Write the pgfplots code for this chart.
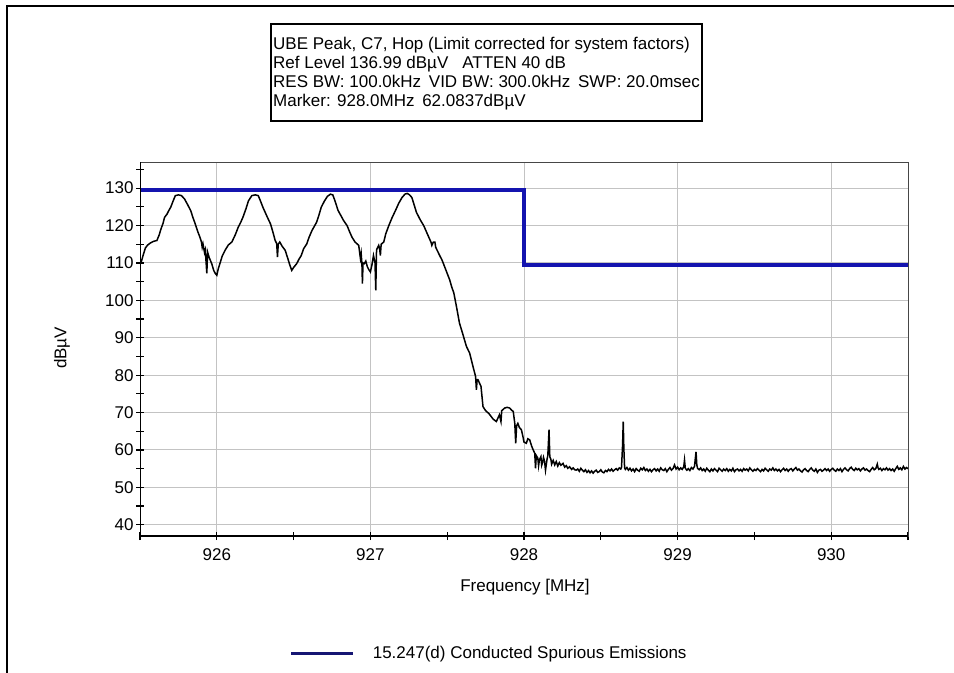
\documentclass[border=0pt]{standalone}
\usepackage{fontspec}
\setmainfont{Liberation Sans}
\usepackage{pgfplots}
\pgfplotsset{compat=1.18}
\definecolor{limitblue}{RGB}{20,20,175}
\definecolor{legnavy}{RGB}{22,22,115}
\definecolor{gridgray}{RGB}{195,195,195}
\definecolor{framegray}{RGB}{70,70,70}
\newcommand{\ff}{\fontsize{17bp}{20bp}\selectfont}
\begin{document}
\begin{tikzpicture}
\path[use as bounding box] (0bp,0bp) rectangle (954bp,-673bp);
\fill[white] (0bp,0bp) rectangle (954bp,-673bp);
\draw[line width=2bp] (7bp,-673bp) -- (7bp,-6bp) -- (954bp,-6bp);
% info box
\draw[line width=1.4bp] (271bp,-24bp) rectangle (702bp,-121bp);
\node[anchor=base west, inner sep=0pt, font=\ff] at (273bp,-49bp) {UBE Peak, C7, Hop (Limit corrected for system factors)};
\node[anchor=base west, inner sep=0pt, font=\ff] at (273bp,-68bp) {Ref Level 136.99 dBµV\hspace{14bp}ATTEN 40 dB};
\node[anchor=base west, inner sep=0pt, font=\ff] at (273bp,-87bp) {RES BW: 100.0kHz\hspace{3bp} VID BW: 300.0kHz\hspace{3bp} SWP: 20.0msec};
\node[anchor=base west, inner sep=0pt, font=\ff] at (273bp,-106bp) {Marker: 928.0MHz\hspace{3bp} 62.0837dBµV};
% labels
\node[font=\ff, rotate=90] at (62bp,-348bp) {dBµV};
\node[font=\ff] at (525bp,-587bp) {Frequency [MHz]};
\begin{axis}[
  at={(140bp,-536bp)}, anchor=south west,
  scale only axis, width=768bp, height=374bp,
  xmin=925.5, xmax=930.5, ymin=36.99, ymax=136.99,
  xtick={926,927,928,929,930},
  minor xtick={925.5,926.5,927.5,928.5,929.5,930.5},
  ytick={40,50,60,70,80,90,100,110,120,130},
  minor ytick={45,55,65,75,85,95,105,115,125,135},
  xtick pos=bottom, ytick pos=left,
  tick align=center,
  major tick length=8bp, minor tick length=8bp,
  every tick/.style={black, line width=1.2bp},
  grid=major,
  major grid style={gridgray, line width=1bp},
  axis line style={framegray, line width=1bp},
  /pgf/number format/assume math mode=true,
  tick label style={font=\ff},
  xticklabel style={yshift=-5bp},
  yticklabel style={xshift=1bp},
  /pgf/number format/.cd, 1000 sep={}, fixed,
  /pgfplots/.cd,
  legend style={at={(0.1945,-0.313)}, anchor=west, draw=none, fill=none,
    font=\ff, inner sep=0pt},
  legend image code/.code={\draw[legnavy, line width=3bp] (0bp,0bp) -- (62bp,0bp); \path (78bp,0bp);},
]
\addplot[black, line width=1.5bp, forget plot] coordinates {
(925.505,109.8) (925.52,112) (925.535,114) (925.55,114.8) (925.57,115.4) (925.59,115.8)
(925.61,116) (925.625,117.5) (925.635,118.9) (925.65,120.6) (925.66,122.2) (925.675,123)
(925.69,124.2) (925.70,124.9) (925.715,126.5) (925.73,128) (925.75,128.2) (925.77,128)
(925.79,127.1) (925.81,125.6) (925.83,124) (925.845,122.1) (925.86,120.4) (925.875,118.5)
(925.89,116.9) (925.90,115.6) (925.905,114.2) (925.91,115.1) (925.92,112.8) (925.925,113.5)
(925.935,107.2) (925.94,112.9) (925.95,111.5) (925.96,110.5) (925.967,109.8) (925.98,108)
(925.99,107.2) (926.0,106.7) (926.01,108.5) (926.02,109.8) (926.035,111.8) (926.054,113.4)
(926.075,114.8) (926.098,115.6) (926.12,117.5) (926.14,119.6) (926.155,120.8) (926.17,122.2)
(926.19,124.5) (926.206,126.6) (926.228,128) (926.25,128.2) (926.27,128) (926.285,126.5)
(926.30,124.9) (926.325,122.6) (926.35,120.4) (926.365,118.3) (926.38,116) (926.39,115.2)
(926.395,111.6) (926.40,115) (926.41,115.6) (926.425,114.5) (926.445,113.4) (926.46,111.5)
(926.475,109.5) (926.488,108) (926.50,108.8) (926.52,109.8) (926.535,111) (926.55,112)
(926.565,113.8) (926.586,115.1) (926.60,116.8) (926.62,118.7) (926.635,119.8) (926.65,120.9)
(926.665,122.8) (926.68,124.9) (926.70,126.5) (926.72,127.8) (926.74,128.4) (926.755,128.2)
(926.765,127.1) (926.79,124) (926.81,122.5) (926.826,121.3) (926.848,120) (926.865,118.3)
(926.88,116.9) (926.90,115.6) (926.924,114.7) (926.935,111.2) (926.94,112.5) (926.945,109.5)
(926.948,104.5) (926.952,110) (926.96,109.8) (926.97,110.5) (926.98,109) (926.99,108.2)
(927.0,107.6) (927.01,109.5) (927.02,112) (927.03,110) (927.035,102.7) (927.04,113.5)
(927.054,114.7) (927.06,113.8) (927.065,112) (927.07,115) (927.087,115.6) (927.10,117.8)
(927.12,120) (927.14,122) (927.163,124) (927.185,126) (927.206,127.5) (927.225,128.4)
(927.24,128.6) (927.255,128.2) (927.27,127.5) (927.285,125.5) (927.30,123.5) (927.325,121.5)
(927.347,120) (927.365,118.3) (927.38,116.9) (927.395,115.5) (927.40,114.7) (927.41,115.6)
(927.42,115.6) (927.425,114.2) (927.445,112.5) (927.467,110.7) (927.485,108.8) (927.50,107.2)
(927.516,105.5) (927.53,103.5) (927.543,102) (927.56,98.4) (927.58,93.9) (927.60,91.2)
(927.625,87.7) (927.646,85.9) (927.668,82.3) (927.685,79.6) (927.69,76.1) (927.695,78.8)
(927.70,78.8) (927.72,77) (927.733,71.6) (927.745,70.8) (927.755,70.3) (927.77,69.8)
(927.787,68.9) (927.80,68.2) (927.82,67.6) (927.83,68.5) (927.84,69.4) (927.85,67.6)
(927.855,70.5) (927.874,71.2) (927.89,71.4) (927.907,71.2) (927.92,70.6) (927.93,70.3)
(927.94,67.1) (927.946,61.8) (927.952,66.5) (927.96,67.1) (927.97,66) (927.983,65.4)
(927.993,63.6) (928.0,62.1) (928.015,61.8) (928.025,63) (928.037,62.7) (928.05,61)
(928.06,60) (928.07,59.1) (928.075,55.1) (928.08,58.5) (928.09,57.8) (928.095,55.8) (928.10,57.3)
(928.11,58.2) (928.115,55.9) (928.12,56.5) (928.127,58.0) (928.134,56.9) (928.14,54.6) (928.15,57.5) (928.155,58.5)
(928.163,65.4) (928.168,58.2) (928.175,57.5) (928.18,56.2) (928.19,57.2) (928.20,56.0) (928.21,56.9) (928.22,55.7) (928.23,56.6)
(928.24,55.9) (928.254,56.4) (928.265,55.4) (928.275,55.8) (928.285,55.1) (928.297,55.5) (928.31,54.8) (928.32,55.2) (928.33,54.7) (928.34,54.6)
(928.35,54.9) (928.36,54.3) (928.37,55.1) (928.38,54.6) (928.39,54.2) (928.40,54.7)
(928.41,54.0) (928.42,54.5) (928.43,53.9) (928.44,54.4) (928.45,53.8) (928.46,54.3)
(928.47,54.6) (928.48,54.0) (928.49,54.2) (928.50,54.7) (928.51,54.1) (928.52,53.9)
(928.53,54.5) (928.54,54.2) (928.55,54.8) (928.56,54.4) (928.57,54.9) (928.58,54.3)
(928.59,54.7) (928.60,55.0) (928.61,54.6) (928.62,55.2) (928.63,54.9) (928.635,55.4)
(928.642,61.5) (928.646,67.6) (928.650,60.5) (928.655,55.2) (928.66,54.8) (928.67,55.3)
(928.68,54.6) (928.69,55.1) (928.70,54.4) (928.71,54.9) (928.72,54.2) (928.73,55.0)
(928.74,54.6) (928.75,54.3) (928.76,55.1) (928.77,54.7) (928.78,55.3) (928.79,54.5)
(928.80,54.9) (928.81,54.3) (928.82,54.8) (928.83,54.2) (928.84,54.7) (928.85,55.0)
(928.86,54.4) (928.87,54.9) (928.88,54.3) (928.89,55.2) (928.90,54.7) (928.91,54.5)
(928.92,55.0) (928.93,54.2) (928.94,54.8) (928.95,55.3) (928.96,54.6) (928.97,55.0)
(928.98,56.0) (928.99,54.9) (929.00,55.4) (929.01,54.7) (929.02,55.2) (929.03,54.8)
(929.04,55.5) (929.045,57.3) (929.05,55.1) (929.06,54.6) (929.07,55.0) (929.08,54.5)
(929.09,55.3) (929.10,54.9) (929.11,55.6) (929.12,59.5) (929.125,56.0) (929.13,55.1)
(929.14,54.7) (929.15,55.2) (929.16,54.5) (929.17,54.9) (929.18,54.3) (929.19,55.1)
(929.20,54.6) (929.21,54.2) (929.22,54.9) (929.23,54.4) (929.24,55.0) (929.25,54.6)
(929.26,54.2) (929.27,55.1) (929.28,54.7) (929.29,54.3) (929.30,54.9) (929.31,54.5)
(929.32,55.0) (929.33,54.3) (929.34,54.8) (929.35,54.4) (929.36,55.1) (929.37,54.2)
(929.38,54.7) (929.39,54.9) (929.40,54.4) (929.41,54.8) (929.42,54.3) (929.43,55.0)
(929.44,54.6) (929.45,54.9) (929.46,54.4) (929.47,55.2) (929.48,54.7) (929.49,54.3)
(929.50,54.8) (929.51,54.5) (929.52,55.0) (929.53,54.6) (929.54,54.2) (929.55,54.8)
(929.56,54.4) (929.57,55.1) (929.58,54.7) (929.59,54.3) (929.60,54.9) (929.61,54.6)
(929.62,55.2) (929.63,54.5) (929.64,54.9) (929.65,54.4) (929.66,54.8) (929.67,54.2)
(929.68,54.7) (929.69,55.1) (929.70,54.5) (929.71,54.9) (929.72,54.3) (929.73,54.8)
(929.74,55.0) (929.75,54.4) (929.76,54.9) (929.77,55.3) (929.78,54.6) (929.79,54.9)
(929.80,54.4) (929.81,54.1) (929.82,54.7) (929.83,55.0) (929.84,54.5) (929.85,54.2)
(929.86,54.8) (929.87,55.2) (929.88,54.6) (929.89,54.3) (929.90,54.9) (929.91,54.0)
(929.92,54.6) (929.93,54.8) (929.94,54.3) (929.95,54.6) (929.96,55.0) (929.97,54.5)
(929.98,54.9) (929.99,54.3) (930.00,54.8) (930.01,55.1) (930.02,54.6) (930.03,54.3)
(930.04,54.9) (930.05,54.5) (930.06,55.0) (930.07,54.2) (930.08,54.8) (930.09,55.2)
(930.10,54.7) (930.11,54.4) (930.12,55.0) (930.13,55.4) (930.14,54.8) (930.15,54.5)
(930.16,55.1) (930.17,54.7) (930.18,55.0) (930.19,54.4) (930.20,54.9) (930.21,55.2)
(930.22,54.6) (930.23,54.9) (930.24,54.5) (930.25,54.2) (930.26,54.8) (930.27,55.3)
(930.28,54.7) (930.29,55.0) (930.30,56.2) (930.305,55.2) (930.31,54.8) (930.32,55.1)
(930.33,54.5) (930.34,55.0) (930.35,54.7) (930.36,55.2) (930.37,54.6) (930.38,55.0)
(930.39,54.5) (930.40,54.9) (930.41,54.3) (930.42,55.0) (930.43,55.6) (930.44,54.8)
(930.45,55.2) (930.46,54.7) (930.47,55.6) (930.48,54.9) (930.49,55.3) (930.50,55.0)
};
\addplot[limitblue, line width=3.5bp] coordinates {
(925.5,129.5) (928.0,129.5) (928.0,109.5) (930.5,109.5)
};
\addlegendentry{15.247(d) Conducted Spurious Emissions}
\draw[black, line width=2bp] (rel axis cs:0,1) -- (rel axis cs:0,0) -- (rel axis cs:1,0);
\end{axis}
\end{tikzpicture}
\end{document}
